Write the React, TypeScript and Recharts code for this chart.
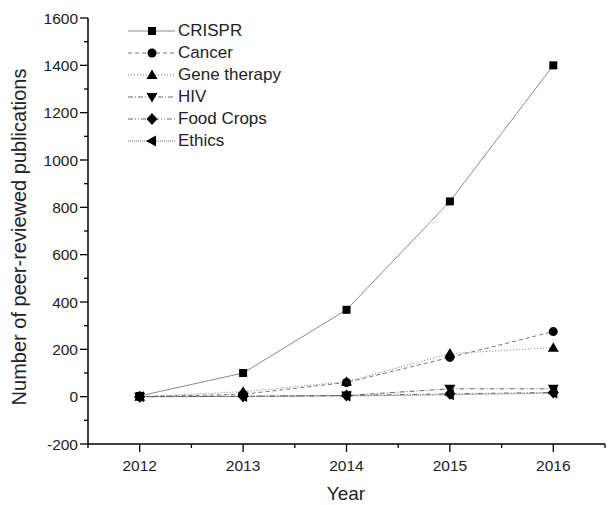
import { LineChart, Line, XAxis, YAxis, Legend, Label } from 'recharts'

const years = [2012, 2013, 2014, 2015, 2016]
const crispr = [3, 100, 367, 825, 1400]
const cancer = [0, 10, 60, 166, 275]
const geneTherapy = [0, 21, 63, 182, 207]
const hiv = [0, 1, 5, 33, 33]
const foodCrops = [0, 2, 5, 12, 18]
const ethics = [0, 1, 3, 8, 15]

const xTicks = [2011.5, 2012, 2012.5, 2013, 2013.5, 2014, 2014.5, 2015, 2015.5, 2016, 2016.5]
const yTicks = [-200, -100, 0, 100, 200, 300, 400, 500, 600, 700, 800, 900, 1000, 1100, 1200, 1300, 1400, 1500, 1600]

const FONT = '"Liberation Sans", Arial, sans-serif'

type Shape = 'square' | 'circle' | 'up' | 'down' | 'diamond' | 'left'

const SERIES: { key: string; name: string; values: number[]; dash?: string; color: string; shape: Shape }[] = [
  { key: 'crispr', name: 'CRISPR', values: crispr, color: '#8a8a8a', shape: 'square' },
  { key: 'cancer', name: 'Cancer', values: cancer, dash: '4 3', color: '#777', shape: 'circle' },
  { key: 'gene', name: 'Gene therapy', values: geneTherapy, dash: '1 2', color: '#777', shape: 'up' },
  { key: 'hiv', name: 'HIV', values: hiv, dash: '5 2 1 2', color: '#666', shape: 'down' },
  { key: 'food', name: 'Food Crops', values: foodCrops, dash: '5 2 1 2 1 2', color: '#666', shape: 'diamond' },
  { key: 'ethics', name: 'Ethics', values: ethics, dash: '1 1', color: '#666', shape: 'left' },
]

const data = years.map((year, i) => {
  const row: Record<string, number> = { year }
  SERIES.forEach((s) => (row[s.key] = s.values[i]))
  return row
})

function Marker({ shape, cx, cy }: { shape: Shape; cx: number; cy: number }) {
  if (cx == null || cy == null) return null
  switch (shape) {
    case 'square':
      return <rect x={cx - 4} y={cy - 4} width={8} height={8} fill="#000" />
    case 'circle':
      return <circle cx={cx} cy={cy} r={4.5} fill="#000" />
    case 'up':
      return <polygon points={`${cx},${cy - 5.5} ${cx + 5.5},${cy + 4} ${cx - 5.5},${cy + 4}`} fill="#000" />
    case 'down':
      return <polygon points={`${cx},${cy + 5.5} ${cx + 5.5},${cy - 4} ${cx - 5.5},${cy - 4}`} fill="#000" />
    case 'diamond':
      return <polygon points={`${cx},${cy - 6} ${cx + 5.5},${cy} ${cx},${cy + 6} ${cx - 5.5},${cy}`} fill="#000" />
    case 'left':
      return <polygon points={`${cx - 6},${cy} ${cx + 4},${cy - 5.5} ${cx + 4},${cy + 5.5}`} fill="#000" />
  }
  return null
}

const XTick = ({ x, y, payload }: any) => {
  const major = Number.isInteger(payload.value)
  return (
    <g>
      <line x1={x} y1={y} x2={x} y2={y + (major ? 8 : 4)} stroke="#000" strokeWidth={1.3} />
      {major && (
        <text x={x} y={y + 27} textAnchor="middle" fontSize={15.5} fill="#222" fontFamily={FONT}>
          {payload.value}
        </text>
      )}
    </g>
  )
}

const YTick = ({ x, y, payload }: any) => {
  const major = payload.value % 200 === 0
  return (
    <g>
      <line x1={x - (major ? 8 : 4)} y1={y} x2={x} y2={y} stroke="#000" strokeWidth={1.3} />
      {major && (
        <text x={x - 10} y={y + 5.5} textAnchor="end" fontSize={15.5} fill="#222" fontFamily={FONT}>
          {payload.value}
        </text>
      )}
    </g>
  )
}

const LegendBox = () => (
  <div style={{ fontFamily: FONT, fontSize: 17, color: '#222' }}>
    {SERIES.map((s) => (
      <div key={s.key} style={{ display: 'flex', alignItems: 'center', height: 22 }}>
        <svg width={50} height={22} style={{ display: 'block' }}>
          <line x1={0} y1={11} x2={47} y2={11} stroke={s.color} strokeWidth={1} strokeDasharray={s.dash} />
          <Marker shape={s.shape} cx={24} cy={11} />
        </svg>
        <span style={{ lineHeight: '22px' }}>{s.name}</span>
      </div>
    ))}
  </div>
)

export default function App() {
  return (
    <div style={{ position: 'absolute', left: 0, top: 0, background: '#fff' }}>
      <LineChart width={608} height={505} data={data} margin={{ top: 18, right: 3, left: 0, bottom: 0 }}>
        <XAxis
          dataKey="year"
          type="number"
          domain={[2011.5, 2016.5]}
          ticks={xTicks}
          interval={0}
          tickSize={0}
          tickMargin={0}
          tickLine={false}
          tick={<XTick />}
          height={61}
          axisLine={{ stroke: '#000', strokeWidth: 1.5 }}
        >
          <Label
            content={() => (
              <text x={346} y={500} textAnchor="middle" fontSize={19} fill="#222" fontFamily={FONT}>
                Year
              </text>
            )}
          />
        </XAxis>
        <YAxis
          type="number"
          domain={[-200, 1600]}
          ticks={yTicks}
          interval={0}
          tickSize={0}
          tickMargin={0}
          tickLine={false}
          tick={<YTick />}
          width={88}
          axisLine={{ stroke: '#000', strokeWidth: 1.5 }}
        >
          <Label
            content={() => (
              <text
                x={26}
                y={237}
                transform="rotate(-90 26 237)"
                textAnchor="middle"
                fontSize={20}
                fill="#222"
                fontFamily={FONT}
              >
                Number of peer-reviewed publications
              </text>
            )}
          />
        </YAxis>
        <Legend
          layout="vertical"
          align="center"
          verticalAlign="middle"
          content={<LegendBox />}
          wrapperStyle={{ left: 128, top: 20, width: 'auto', height: 'auto' }}
        />
        {SERIES.map((s) => (
          <Line
            key={s.key}
            dataKey={s.key}
            name={s.name}
            type="linear"
            stroke={s.color}
            strokeWidth={1}
            strokeDasharray={s.dash}
            isAnimationActive={false}
            dot={(p: any) => <Marker key={`${s.key}-${p.index}`} shape={s.shape} cx={p.cx} cy={p.cy} />}
            activeDot={false}
          />
        ))}
      </LineChart>
    </div>
  )
}
